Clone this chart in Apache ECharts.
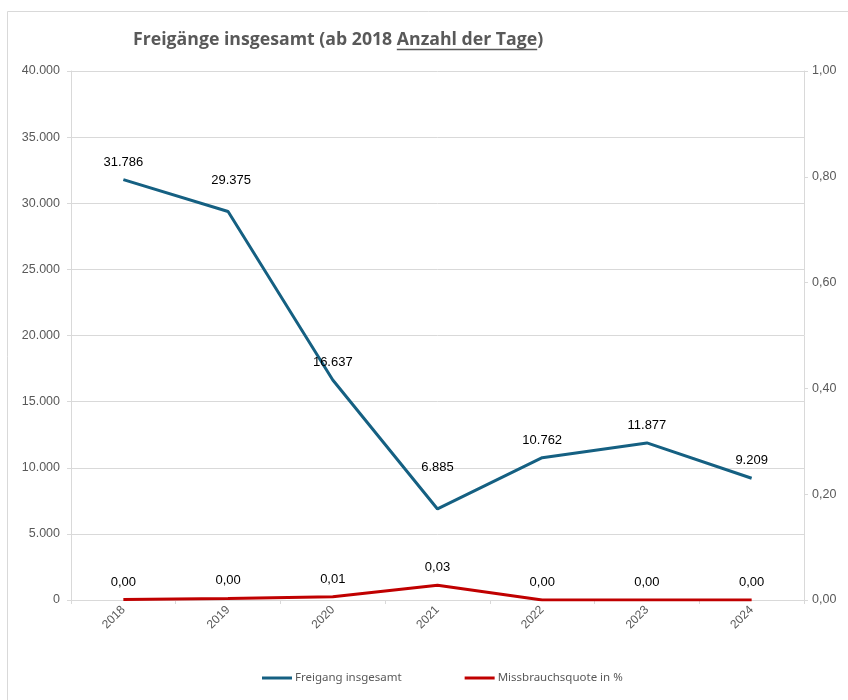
<!DOCTYPE html>
<html>
<head>
<meta charset="utf-8">
<script src="https://cdn.jsdelivr.net/npm/echarts@6/dist/echarts.min.js"></script>
<style>
html,body{margin:0;padding:0;background:#fff;overflow:hidden;}
#chart{width:848px;height:700px;}
</style>
</head>
<body>
<div id="chart"></div>
<script>
// ---- data ----
var years = ['2018', '2019', '2020', '2021', '2022', '2023', '2024'];
var freigang = [31786, 29375, 16637, 6885, 10762, 11877, 9209];
var missbrauch = [0.001, 0.003, 0.006, 0.028, 0.000, 0.000, 0.000];
var seriesNames = ['Freigang insgesamt', 'Missbrauchsquote in %'];
var titleMain = 'Freigänge insgesamt (ab 2018 ';
var titleUnder = 'Anzahl der Tage';
var titleEnd = ')';

function deNum(v) {
  return String(Math.round(v)).replace(/\B(?=(\d{3})+(?!\d))/g, '.');
}
function deDec(v) {
  return v.toFixed(2).replace('.', ',');
}

var chart = echarts.init(document.getElementById('chart'));

var titleFont = 'bold 17.7px "Open Sans"';
var cv = document.createElement('canvas').getContext('2d');
cv.font = titleFont;
var titleX = 133;
var w1 = cv.measureText(titleMain).width;
var w2 = cv.measureText(titleUnder).width;

var blueLabelAdj = { 1: [3, -14], 3: [0, -24] };
var blueData = freigang.map(function (v, i) {
  var d = { value: v };
  if (blueLabelAdj[i]) d.label = { offset: blueLabelAdj[i] };
  return d;
});

var axisColor = '#d9d9d9';
var textGray = '#595959';

chart.setOption({
  backgroundColor: '#fff',
  animation: false,
  graphic: [
    { type: 'rect', silent: true, shape: { x: 7.5, y: 11.5, width: 1000, height: 1000 },
      style: { fill: 'none', stroke: '#d9d9d9', lineWidth: 1 } },
    { type: 'text', left: titleX, top: 31,
      style: { text: titleMain + titleUnder + titleEnd, font: titleFont, fill: textGray } },
    { type: 'line', shape: { x1: titleX + w1, y1: 49.5, x2: titleX + w1 + w2, y2: 49.5 },
      style: { stroke: textGray, lineWidth: 1.3 } }
  ],
  grid: { left: 71, right: 44, top: 71, bottom: 100, containLabel: false },
  legend: {
    left: 257, top: 667,
    itemWidth: 30, itemHeight: 3, itemGap: 63,
    icon: 'rect',
    textStyle: { color: textGray, fontSize: 11.5, fontFamily: 'Noto Sans', padding: [0, 0, 0, -2] },
    data: seriesNames
  },
  xAxis: {
    type: 'category',
    data: years,
    boundaryGap: true,
    axisLine: { show: true, lineStyle: { color: axisColor, width: 1 } },
    axisTick: { show: true, length: 4, lineStyle: { color: axisColor } },
    axisLabel: { rotate: 45, color: textGray, fontSize: 12, fontFamily: 'Liberation Sans', margin: 8 }
  },
  yAxis: [
    {
      type: 'value', min: 0, max: 40000, interval: 5000,
      axisLine: { show: true, lineStyle: { color: axisColor } },
      axisTick: { show: true, length: 4, lineStyle: { color: axisColor } },
      splitLine: { show: true, lineStyle: { color: axisColor, width: 1 } },
      axisLabel: { color: textGray, fontSize: 12.5, fontFamily: 'Liberation Sans', margin: 11, formatter: deNum }
    },
    {
      type: 'value', min: 0, max: 1, interval: 0.2,
      axisLine: { show: true, lineStyle: { color: axisColor } },
      axisTick: { show: true, length: 4, lineStyle: { color: axisColor } },
      splitLine: { show: false },
      axisLabel: { color: textGray, fontSize: 12.5, fontFamily: 'Liberation Sans', margin: 8, formatter: deDec }
    }
  ],
  series: [
    {
      name: seriesNames[0], type: 'line', yAxisIndex: 0,
      data: blueData,
      symbol: 'circle', symbolSize: 0, showSymbol: true,
      lineStyle: { color: '#156082', width: 3 },
      itemStyle: { color: '#156082' },
      label: { show: true, position: 'top', distance: 11, color: '#000', fontSize: 13,
               fontFamily: 'Liberation Sans', formatter: function (p) { return deNum(p.value); } },
      z: 3
    },
    {
      name: seriesNames[1], type: 'line', yAxisIndex: 1,
      data: missbrauch,
      symbol: 'circle', symbolSize: 0, showSymbol: true,
      lineStyle: { color: '#c00000', width: 3 },
      itemStyle: { color: '#c00000' },
      label: { show: true, position: 'top', distance: 11, color: '#000', fontSize: 13,
               fontFamily: 'Liberation Sans', formatter: function (p) { return deDec(p.value); } },
      z: 4
    }
  ]
});
</script>
</body>
</html>
